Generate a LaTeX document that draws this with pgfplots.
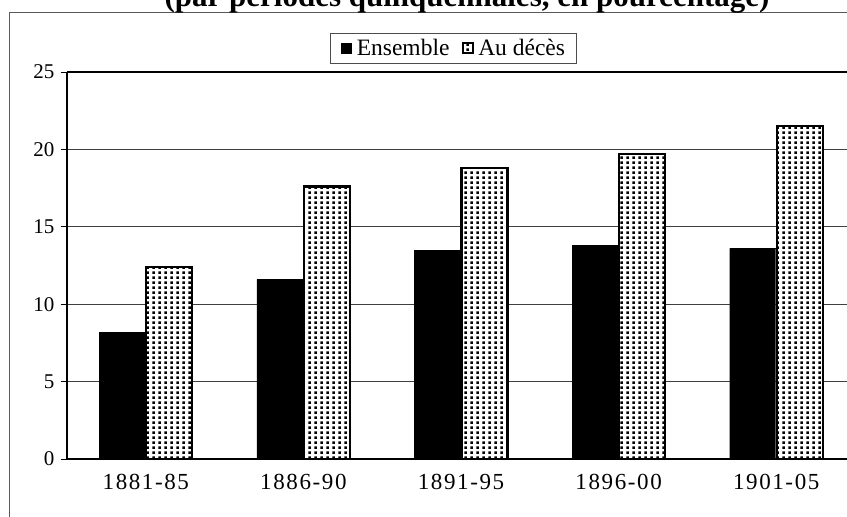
\documentclass[border=0pt]{standalone}
\usepackage{fontspec}
\setmainfont{Liberation Serif}
\newfontfamily\xlabfont[LetterSpace=7]{Liberation Serif}
\usepackage{pgfplots}
\pgfplotsset{compat=1.18}
\usetikzlibrary{patterns}

% square dots, as in the old spreadsheet fill
\pgfdeclarepatternformonly{sqdots}{\pgfqpoint{0bp}{0bp}}{\pgfqpoint{5.6bp}{4.8bp}}{\pgfqpoint{5.6bp}{4.8bp}}{%
  \pgfpathrectangle{\pgfqpoint{1.5bp}{1.2bp}}{\pgfqpoint{2.6bp}{2.5bp}}\pgfusepath{fill}}

\begin{document}
\begin{tikzpicture}
% chart frame
\draw[black!65,line width=0.9bp] (9bp,-20bp) rectangle (925bp,505bp);
% title (cut at the top, as in the reference)
\node[anchor=base,font=\fontsize{31bp}{36bp}\selectfont\bfseries,inner sep=0pt] at (467bp,510.5bp)
  {(par périodes quinquennales, en pourcentage)};
\begin{axis}[
  at={(67bp,58bp)},anchor=south west,
  scale only axis,width=788bp,height=387bp,
  ybar,bar width=46bp,
  xmin=-0.5,xmax=4.5,ymin=0,ymax=25,
  xtick={0,1,2,3,4},
  xticklabels={1881-85,1886-90,1891-95,1896-00,1901-05},
  x tick label style={font=\xlabfont\fontsize{23bp}{27bp}\selectfont,yshift=-6bp},
  extra x ticks={0.5,1.5,2.5,3.5},
  extra x tick labels={},
  extra x tick style={major tick length=11bp,tick align=center,grid=none},
  ytick={0,5,10,15,20,25},
  y tick label style={font=\fontsize{21bp}{25bp}\selectfont,xshift=-3bp},
  /pgf/number format/assume math mode=true,
  tick style={black,line width=0.9bp},
  xtick style={draw=none},
  extra x tick style={xtick style={black,line width=0.9bp}},
  major tick length=6bp,tick align=outside,
  ymajorgrids,
  major grid style={black!75,line width=0.9bp},
  axis x line*=bottom,axis y line*=left,
  axis line style={black,line width=2.6bp,-},
  legend columns=2,
  legend style={at={(0.4886,1)},anchor=center,xshift=1bp,yshift=24bp,
    draw=black!70,line width=0.8bp,
    font=\fontsize{23.5bp}{27bp}\selectfont,
    inner xsep=11bp,inner ysep=4bp,
    nodes={inner xsep=0bp},
    /tikz/every odd column/.append style={column sep=5bp},
    /tikz/every even column/.append style={column sep=13bp}},
  legend image code/.code={\draw[#1,line width=0.8bp] (0bp,-5bp) rectangle (10bp,5bp);},
  clip=false,
]
\addplot[fill=black,draw=black,bar shift=-23.5bp] coordinates {(0,8.2) (1,11.6) (2,13.5) (3,13.8) (4,13.6)};
\addplot[preaction={fill=white},pattern=sqdots,draw=black,line width=2.2bp,bar shift=23.5bp] coordinates {(0,12.4) (1,17.6) (2,18.8) (3,19.7) (4,21.5)};
\legend{Ensemble,Au décès}
\end{axis}
% top edge of the plot area
\draw[black,line width=2.6bp] (67bp,445bp) -- (855bp,445bp);
\pgfresetboundingbox
\useasboundingbox (0bp,0bp) rectangle (847bp,517bp);
\end{tikzpicture}
\end{document}
